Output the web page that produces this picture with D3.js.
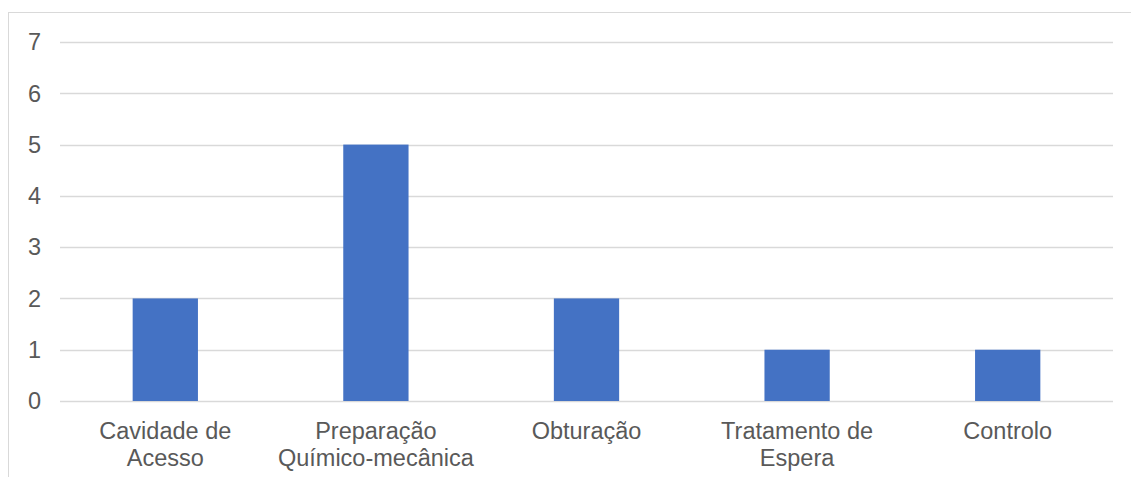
<!DOCTYPE html>
<html>
<head>
<meta charset="utf-8">
<script src="https://cdn.jsdelivr.net/npm/d3@7"></script>
<style>
  body { margin: 0; background: #fff; }
  svg { display: block; font-family: "Liberation Sans", Arial, sans-serif; }
</style>
</head>
<body>
<svg id="chart"></svg>
<script>
const WIDTH = 1131;
const HEIGHT = 477;

// Data.
const categories = [
  ['Cavidade de', 'Acesso'],
  ['Preparação', 'Químico-mecânica'],
  ['Obturação'],
  ['Tratamento de', 'Espera'],
  ['Controlo']
];
const values = [2, 5, 2, 1, 1];
const yTicks = [0, 1, 2, 3, 4, 5, 6, 7];

const margin = {top: 42, right: 18, bottom: 76, left: 60};
const FONT_SIZE = '23.5px';

const svg = d3.select('#chart')
  .attr('width', WIDTH)
  .attr('height', HEIGHT);

// Chart border (runs off the right and bottom edges).
svg.append('rect')
  .attr('x', 8.5)
  .attr('y', 12.5)
  .attr('width', WIDTH)
  .attr('height', HEIGHT)
  .attr('fill', 'none')
  .attr('stroke', '#d9d9d9');

const x = d3.scaleBand()
  .domain(d3.range(categories.length))
  .range([margin.left, WIDTH - margin.right])
  .paddingInner(0.69)
  .paddingOuter(0.345);

const y = d3.scaleLinear()
  .domain([0, 7])
  .range([HEIGHT - margin.bottom, margin.top]);

// Gridlines
svg.append('g')
  .selectAll('line')
  .data(yTicks)
  .join('line')
  .attr('x1', margin.left)
  .attr('x2', WIDTH - margin.right)
  .attr('y1', d => Math.round(y(d)) + 0.5)
  .attr('y2', d => Math.round(y(d)) + 0.5)
  .attr('stroke', '#d9d9d9')
  .attr('stroke-width', 1.5);

// Y tick labels
svg.append('g')
  .selectAll('text')
  .data(yTicks)
  .join('text')
  .attr('x', 41)
  .attr('y', d => y(d))
  .attr('dy', '0.35em')
  .attr('text-anchor', 'end')
  .attr('fill', '#595959')
  .style('font-size', FONT_SIZE)
  .text(d => d);

// Bars
svg.append('g')
  .selectAll('rect')
  .data(values)
  .join('rect')
  .attr('x', (d, i) => x(i))
  .attr('y', d => y(d))
  .attr('width', x.bandwidth())
  .attr('height', d => y(0) - y(d))
  .attr('fill', '#4472c4');

// Category labels
const labels = svg.append('g')
  .selectAll('text')
  .data(categories)
  .join('text')
  .attr('x', (d, i) => x(i) + x.bandwidth() / 2)
  .attr('y', 439)
  .attr('text-anchor', 'middle')
  .attr('fill', '#595959')
  .style('font-size', FONT_SIZE);

labels.selectAll('tspan')
  .data(d => d)
  .join('tspan')
  .attr('x', function() { return this.parentNode.getAttribute('x'); })
  .attr('dy', (d, i) => i === 0 ? 0 : 27)
  .text(d => d);
</script>
</body>
</html>
